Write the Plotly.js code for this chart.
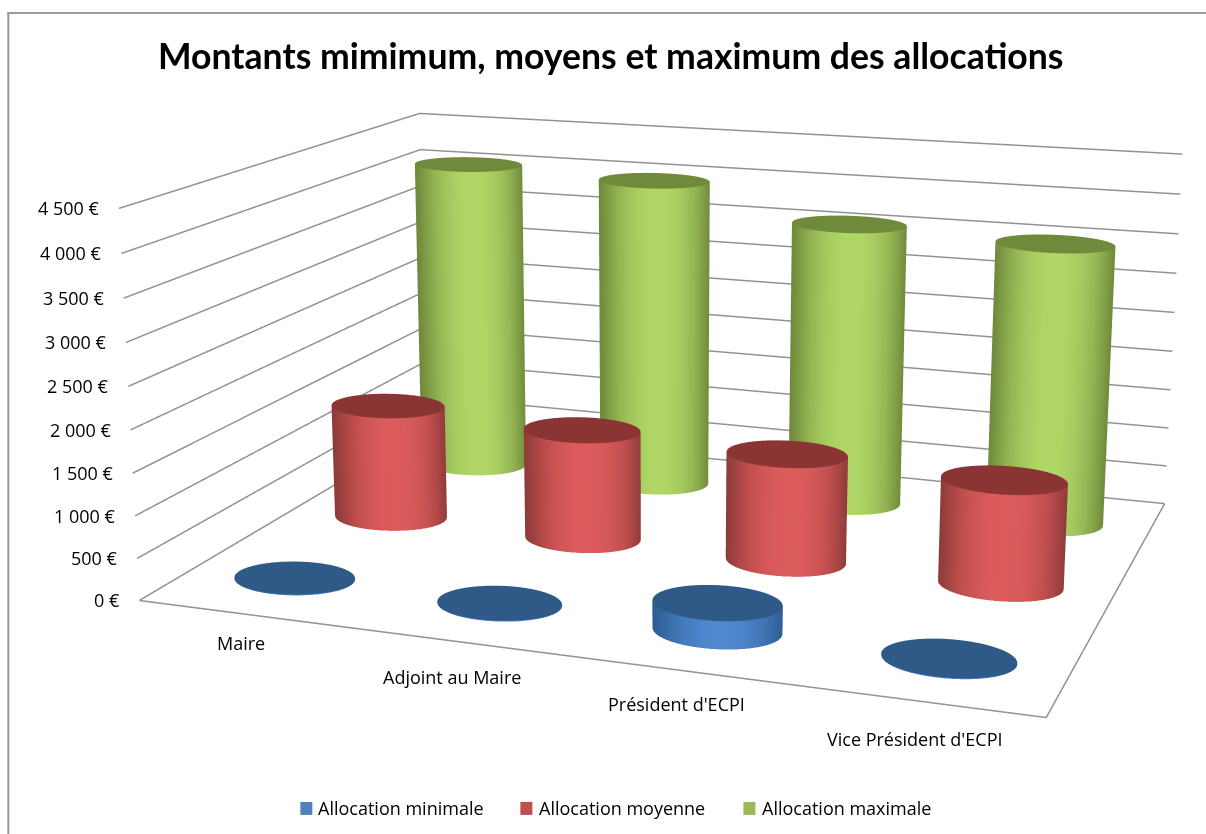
<!DOCTYPE html>
<html><head><meta charset="utf-8"><script src="https://cdn.plot.ly/plotly-3.0.1.min.js"></script>
<style>html,body{margin:0;padding:0;background:#fff;overflow:hidden}#w{position:absolute;left:0;top:0;width:1206px;height:834px;overflow:hidden}#g{position:absolute}</style></head><body><div id="w"><div id="g"></div></div>
<script>
const categories=["Maire","Adjoint au Maire","Président d'ECPI","Vice Président d'ECPI"];
const seriesNames=["Allocation minimale","Allocation moyenne","Allocation maximale"];
const minValues=[10,10,320,10];
const avgValues=[1435,1365,1315,1258];
const maxValues=[4065,4000,3600,3525];
const tickVals=[0,500,1000,1500,2000,2500,3000,3500,4000,4500];
const tickText=["0 €","500 €","1 000 €","1 500 €","2 000 €","2 500 €","3 000 €","3 500 €","4 000 €","4 500 €"];
const legendColors=["#4F81BD","#C0504D","#9BBB59"];
const W=1206,H=834,t=Math.tan(Math.PI/8);
const eye={x:1.8231,y:-5.2418,z:1.3816},center={x:0.0176,y:-0.2361,z:0.0764},up={x:0,y:0,z:1};
const aspect={x:2,y:1.487,z:0.8706},focal=2501.5,ppx=655.1,ppy=359.0;
// Plotly's 3D field of view is fixed, so the plot is enlarged inside a clipping frame to get the reference's long lens
const GH=2*focal*t,GW=GH*W/H,GL=ppx-GW/2,GT=ppy-GH/2;
const g=document.getElementById("g");g.style.left=GL+"px";g.style.top=GT+"px";g.style.width=GW+"px";g.style.height=GH+"px";
const PX=x=>(x-GL)/GW,PY=y=>1-(y-GT)/GH;
const rx=.28,ry=.225,N=48;
const colors=[{cap:"#2F5A87",edge:"#2F5C94",mid:"#4076B5",hi:"#5088D0"},{cap:"#8A3434",edge:"#8E3B3A",mid:"#C04F4E",hi:"#DC5C5C"},{cap:"#6E8A3A",edge:"#6F8A3B",mid:"#97B855",hi:"#B0D766"}];
function cyl(i,j,v){
 const cx=i+.5,cy=j+.5,X=[],Y=[],Z=[],S=[];
 const wx=(cx/4-.5)*aspect.x,wy=(cy/3-.5)*aspect.y;
 const tv=Math.atan2((eye.y-wy)/(aspect.y/3),(eye.x-wx)/(aspect.x/4));
 const rows=[[1,0,0],[1,v,1],[1,v,-1],[0,v,-1]];
 for(const r of rows){const a=[],b=[],c=[],d=[];for(let k=0;k<=N;k++){const th=2*Math.PI*k/N;a.push(cx+rx*r[0]*Math.cos(th));b.push(cy+ry*r[0]*Math.sin(th));c.push(r[1]);
   d.push(r[2]<0?0:.1+.9*Math.pow(Math.max(0,Math.cos(th-tv)),2.2))}X.push(a);Y.push(b);Z.push(c);S.push(d)}
 const C=colors[j];
 return {type:"surface",x:X,y:Y,z:Z,surfacecolor:S,cmin:0,cmax:1,showscale:false,showlegend:false,hoverinfo:"skip",name:seriesNames[j]+" "+categories[i],
  colorscale:[[0,C.cap],[.099,C.cap],[.1,C.edge],[.6,C.mid],[1,C.hi]],
  lighting:{ambient:1,diffuse:0,specular:0,roughness:1,fresnel:0},contours:{x:{show:false},y:{show:false},z:{show:false}}};
}
const traces=[];
const nc=categories.length,ns=seriesNames.length,lineStyle={color:"#929292",width:3};
traces.push({type:"scatter3d",mode:"lines",x:[0,nc,nc],y:[0,0,ns],z:[0,0,0],line:lineStyle,showlegend:false,hoverinfo:"skip"});
tickVals.forEach(v=>traces.push({type:"scatter3d",mode:"lines",x:[0,0,nc],y:[0,ns,ns],z:[v,v,v],line:lineStyle,showlegend:false,hoverinfo:"skip"}));
[minValues,avgValues,maxValues].forEach((arr,j)=>arr.forEach((v,i)=>traces.push(cyl(i,j,v))));
const ann=[];const F="Open Sans";
tickVals.forEach((v,k)=>ann.push({x:0,y:0,z:v,text:tickText[k],showarrow:false,xanchor:"right",xshift:-17,font:{family:F,size:18,color:"#000"}}));
const catShift=[[0,-29],[-1,-36],[-2,-34],[-5,-38]];
categories.forEach((c,i)=>ann.push({x:i+.5,y:0,z:0,text:c,showarrow:false,xanchor:"center",xshift:catShift[i][0],yshift:catShift[i][1],font:{family:F,size:18,color:"#000"}}));
const noax={showgrid:false,zeroline:false,showline:false,showticklabels:false,showspikes:false,showbackground:false,ticks:"",title:{text:""}};
const frame={color:"#9a9a9a",width:2};
const shapes=[{type:"line",xref:"paper",yref:"paper",x0:PX(8),x1:PX(8),y0:PY(12),y1:PY(834),line:frame},{type:"line",xref:"paper",yref:"paper",x0:PX(7),x1:PX(1206),y0:PY(13),y1:PY(13),line:frame}];
const pann=[{xref:"paper",yref:"paper",x:PX(610.5),y:PY(55),xanchor:"center",yanchor:"middle",showarrow:false,text:"<b>Montants mimimum, moyens et maximum des allocations</b>",font:{family:"Lato",size:35.6,color:"#000"}}];
const lx=[300,520,743],tx=[316,537,760];
seriesNames.forEach((n,j)=>{shapes.push({type:"rect",xref:"paper",yref:"paper",x0:PX(lx[j]),x1:PX(lx[j]+12),y0:PY(815),y1:PY(802),fillcolor:legendColors[j],line:{width:0}});
 pann.push({xref:"paper",yref:"paper",x:PX(tx[j]),y:PY(808),xanchor:"left",yanchor:"middle",showarrow:false,text:n,font:{family:F,size:18,color:"#000"}})});
Plotly.newPlot("g",traces,{width:GW,height:GH,margin:{l:0,r:0,t:0,b:0,pad:0},paper_bgcolor:"#fff",showlegend:false,
 annotations:pann,shapes:shapes,
 scene:{domain:{x:[0,1],y:[0,1]},aspectmode:"manual",aspectratio:aspect,camera:{eye,center,up,projection:{type:"perspective"}},
  xaxis:{...noax,range:[0,nc]},yaxis:{...noax,range:[0,ns]},
  zaxis:{...noax,range:[0,4500]},annotations:ann}
},{displayModeBar:false});
</script></body></html>
